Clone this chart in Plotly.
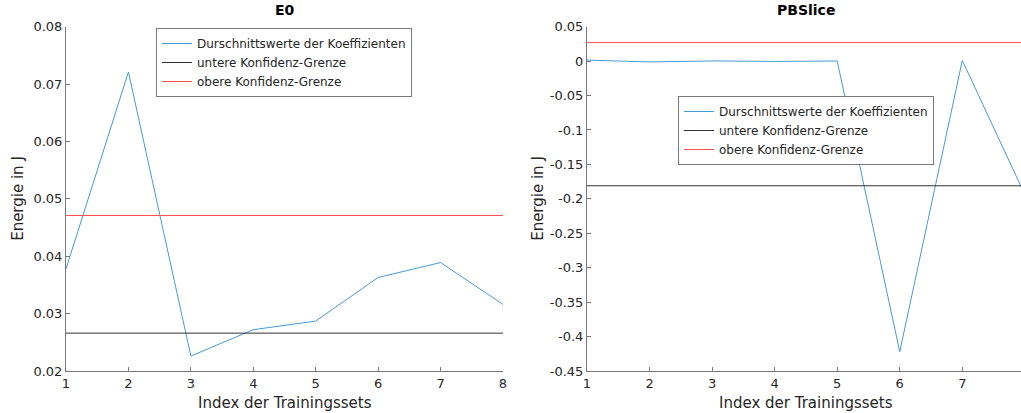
import plotly.graph_objects as go

x_idx = [1, 2, 3, 4, 5, 6, 7, 8]
e0_mean = [0.0378, 0.0721, 0.0226, 0.0272, 0.0287, 0.0363, 0.0389, 0.0316]
e0_lower = 0.0266
e0_upper = 0.0471

pb_mean = [0.0015, -0.0012, 0.0003, -0.0004, 0.0002, -0.422, 0.001, -0.194]
pb_lower = -0.181
pb_upper = 0.027

names = ["Durschnittswerte der Koeffizienten", "untere Konfidenz-Grenze", "obere Konfidenz-Grenze"]
titles = ["E0", "PBSlice"]
xlabel = "Index der Trainingssets"
ylabel = "Energie in J"

blue = "rgb(70,155,215)"
black = "rgb(50,50,50)"
red = "rgb(255,80,80)"
axcol = "rgb(120,120,120)"
txtcol = "rgb(38,38,38)"
FONT = "DejaVu Sans"

W, H = 1021, 413


def px(x):
    return x / W


def py(y):
    return 1 - y / H


fig = go.Figure()


def add_panel(mean, lo, hi, xa, ya, leg):
    fig.add_trace(go.Scatter(x=x_idx, y=mean, mode="lines", line=dict(color=blue, width=1),
                             name=names[0], xaxis=xa, yaxis=ya, legend=leg))
    fig.add_trace(go.Scatter(x=x_idx, y=[lo] * len(x_idx), mode="lines", line=dict(color=black, width=1),
                             name=names[1], xaxis=xa, yaxis=ya, legend=leg))
    fig.add_trace(go.Scatter(x=x_idx, y=[hi] * len(x_idx), mode="lines", line=dict(color=red, width=1),
                             name=names[2], xaxis=xa, yaxis=ya, legend=leg))


add_panel(e0_mean, e0_lower, e0_upper, "x", "y", "legend")
add_panel(pb_mean, pb_lower, pb_upper, "x2", "y2", "legend2")

ytop, ybot = 26.7, 371
ydom = [py(ybot), py(ytop)]

axis_common = dict(showline=True, linecolor=axcol, linewidth=1, ticks="inside", ticklen=4,
                   tickcolor=axcol, showgrid=False, zeroline=False, mirror=False,
                   tickfont=dict(family=FONT, size=13, color=txtcol), automargin=False)

fig.update_layout(
    width=W, height=H,
    margin=dict(l=0, r=0, t=0, b=0),
    paper_bgcolor="white", plot_bgcolor="white",
    showlegend=True,
    xaxis=dict(domain=[px(66), px(503)], range=[1, 8], tickvals=x_idx, anchor="y", **axis_common),
    yaxis=dict(domain=ydom, range=[0.02, 0.08], tickvals=[0.02, 0.03, 0.04, 0.05, 0.06, 0.07, 0.08],
               ticktext=["0.02", "0.03", "0.04", "0.05", "0.06", "0.07", "0.08"], anchor="x", **axis_common),
    xaxis2=dict(domain=[px(587), 1.0], range=[1, 1 + (1021 - 587) / 62.55], tickvals=x_idx[:7],
                anchor="y2", **axis_common),
    yaxis2=dict(domain=ydom, range=[-0.45, 0.05],
                tickvals=[-0.45, -0.4, -0.35, -0.3, -0.25, -0.2, -0.15, -0.1, -0.05, 0, 0.05],
                ticktext=["-0.45", "-0.4", "-0.35", "-0.3", "-0.25", "-0.2", "-0.15", "-0.1", "-0.05", "0", "0.05"],
                anchor="x2", **axis_common),
    legend=dict(x=px(156), y=py(28), xanchor="left", yanchor="top", bgcolor="white",
                bordercolor=axcol, borderwidth=1, font=dict(family=FONT, size=12, color=txtcol),
                tracegroupgap=0, itemwidth=30),
    legend2=dict(x=px(678), y=py(96), xanchor="left", yanchor="top", bgcolor="white",
                 bordercolor=axcol, borderwidth=1, font=dict(family=FONT, size=12, color=txtcol),
                 tracegroupgap=0, itemwidth=30),
)

annots = []
for t, cx in zip(titles, [(66 + 503) / 2, (587 + 1024) / 2]):
    annots.append(dict(text="<b>" + t + "</b>", x=px(cx), y=py(10), xref="paper", yref="paper",
                       showarrow=False, font=dict(family=FONT, size=14, color="black"),
                       xanchor="center", yanchor="middle"))
for cx in [(66 + 503) / 2, (587 + 1024) / 2]:
    annots.append(dict(text=xlabel, x=px(cx), y=py(403), xref="paper", yref="paper",
                       showarrow=False, font=dict(family=FONT, size=15, color=txtcol),
                       xanchor="center", yanchor="middle"))
for cx in [18, 538]:
    annots.append(dict(text=ylabel, x=px(cx), y=py((ytop + ybot) / 2), xref="paper", yref="paper",
                       showarrow=False, textangle=-90, font=dict(family=FONT, size=15, color=txtcol),
                       xanchor="center", yanchor="middle"))
fig.update_layout(annotations=annots)

fig.write_html("out.html",
               config={"displayModeBar": False},
               post_script="document.body.style.margin='0';document.body.style.padding='0';"
                           "document.documentElement.style.overflow='hidden';")
